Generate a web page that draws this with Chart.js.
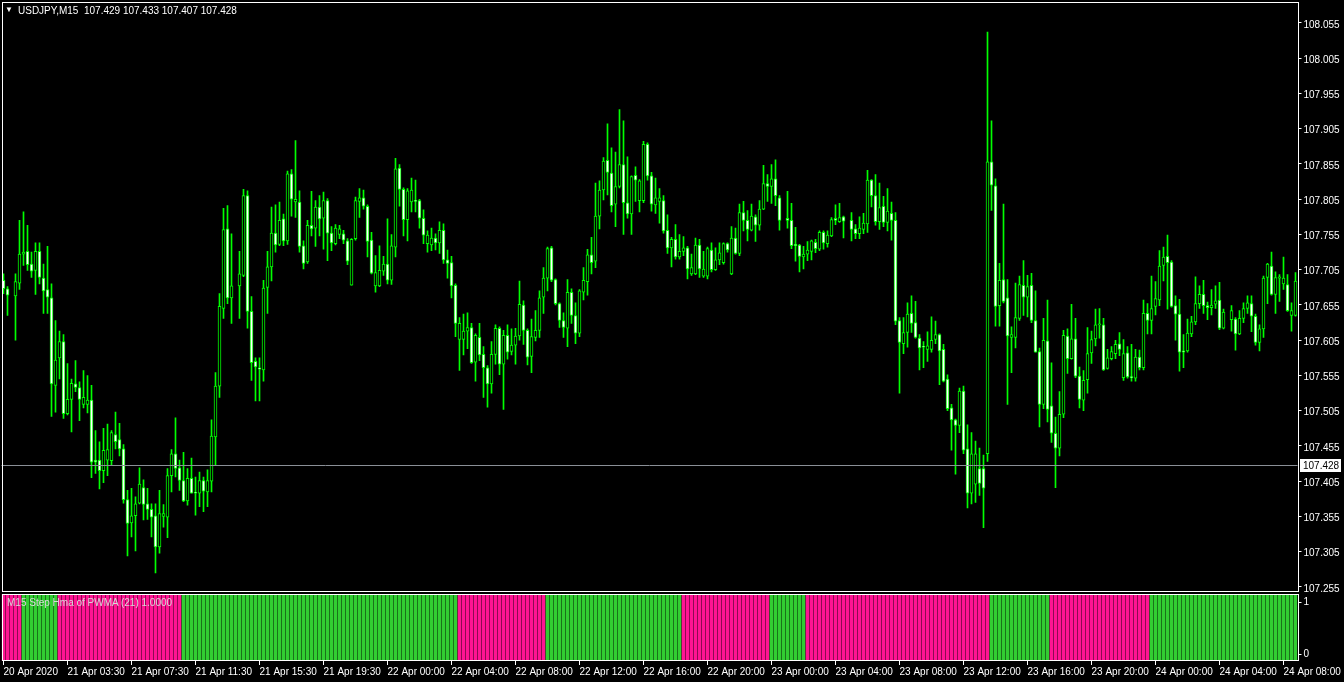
<!DOCTYPE html>
<html>
<head>
<meta charset="utf-8">
<title>USDJPY,M15</title>
<script src="https://cdn.jsdelivr.net/npm/chart.js"></script>
<style>
html, body { margin: 0; padding: 0; background: #000; }
#wrap { position: relative; width: 1344px; height: 682px; overflow: hidden; background: #000; font-family: "Liberation Sans", Arial, sans-serif; }
canvas { position: absolute; left: 0; }
#main { top: 0; }
#ind { top: 593px; }
.lbl { position: absolute; white-space: pre; font-size: 10px; line-height: 12px; color: #fff; }
</style>
</head>
<body>
<div id="wrap">
  <canvas id="main" width="1344" height="593"></canvas>
  <canvas id="ind" width="1344" height="89"></canvas>
  <div class="lbl" style="left:5px;top:4px;font-size:8px;">▼</div>
  <div class="lbl" style="left:18px;top:5px;">USDJPY,M15  107.429 107.433 107.407 107.428</div>
  <div class="lbl" style="left:7px;top:597px;color:#d8d8d8;">M15 Step Hma of PWMA (21) 1.0000</div>
</div>
<script>
// USDJPY M15 (null = barra sem desenho)
const opens = [
  107.690, 107.678, null, 107.668, 107.686, 107.727, 107.731, 107.713, 107.704, 107.731,
  107.693, 107.677, 107.665, 107.541, 107.580, 107.603, 107.501, 107.521, 107.543, 107.538,
  107.514, 107.514, 107.520, 107.435, 107.435, 107.420, 107.435, 107.434, 107.471, 107.464,
  107.451, 107.379, 107.346, 107.356, 107.374, 107.396, 107.373, 107.365, 107.356, 107.312,
  107.355, 107.354, 107.413, 107.444, 107.424, 107.406, 107.377, 107.409, 107.389, 107.388,
  107.406, 107.390, 107.405, 107.468, 107.540, 107.650, 107.763, 107.665, null, 107.682,
  107.697, 107.810, 107.646, 107.575, 107.566, 107.563, 107.680, 107.709, 107.757, 107.741,
  107.777, 107.746, 107.841, 107.801, 107.801, 107.739, 107.716, 107.768, 107.764, 107.794,
  107.778, 107.803, 107.757, 107.742, 107.755, 107.756, 107.746, 107.683, 107.749, 107.802,
  107.807, 107.795, 107.747, 107.682, 107.682, 107.703, 107.713, 107.690, 107.737, 107.849,
  107.819, 107.776, 107.801, 107.803, 107.803, 107.778, 107.742, 107.740, 107.750, 107.743,
  107.761, 107.719, 107.715, 107.683, 107.606, 107.606, 107.618, 107.623, 107.574, 107.609,
  107.585, 107.566, 107.543, 107.585, 107.622, 107.571, 107.612, 107.589, 107.598, 107.611,
  107.655, 107.619, 107.582, 107.609, 107.619, 107.666, 107.693, 107.736, 107.691, 107.657,
  107.633, 107.622, 107.673, 107.640, 107.615, 107.673, 107.688, 107.726, 107.717, 107.781,
  107.818, 107.860, 107.842, 107.798, 107.823, 107.854, 107.800, 107.784, 107.839, 107.803,
  107.803, 107.883, 107.838, 107.797, 107.802, 107.803, 107.761, 107.736, 107.748, 107.723,
  107.731, 107.736, 107.699, 107.699, 107.740, 107.696, 107.696, 107.733, 107.705, 107.719,
  107.715, 107.742, 107.699, 107.750, 107.728, 107.786, 107.775, 107.761, 107.780, 107.768,
  107.791, 107.827, 107.823, 107.834, 107.807, null, 107.778, 107.775, 107.741, 107.740,
  107.723, 107.727, 107.731, 107.744, 107.734, 107.758, 107.742, 107.753, 107.778, 107.773,
  107.780, null, 107.775, 107.763, 107.756, 107.762, 107.770, 107.832, 107.810, 107.773,
  107.795, 107.772, 107.785, 107.775, 107.633, 107.600, 107.616, 107.643, 107.630, 107.608,
  107.596, 107.592, 107.592, 107.606, 107.613, 107.592, 107.550, 107.509, 107.492, 107.484,
  107.533, 107.451, 107.388, 107.401, 107.423, 107.423, 107.444, 107.858, 107.824, 107.654,
  107.691, 107.665, 107.609, 107.609, 107.636, 107.683, 107.666, 107.683, 107.633, 107.589,
  107.514, 107.604, 107.512, 107.473, 107.452, 107.500, 107.611, 107.579, 107.607, 107.554,
  107.520, 107.549, 107.587, 107.607, 107.627, 107.627, 107.565, 107.579, 107.586, 107.600,
  107.552, 107.587, 107.553, 107.551, 107.581, 107.566, 107.643, 107.633, 107.653, 107.662,
  107.711, 107.724, 107.716, 107.654, 107.642, 107.590, 107.590, 107.614, 107.631, 107.657,
  107.670, 107.654, 107.651, 107.656, 107.662, 107.622, null, 107.634, 107.635, 107.614,
  107.636, 107.650, 107.657, 107.639, 107.602, 107.621, 107.694, 107.710, 107.670, 107.693,
  107.685, 107.684, 107.640, 107.640
];
const highs = [
  107.699, 107.681, null, 107.699, 107.775, 107.787, 107.768, 107.730, 107.743, 107.743,
  107.713, 107.738, 107.685, 107.633, 107.618, 107.613, 107.572, 107.550, 107.576, 107.546,
  107.562, 107.555, 107.541, 107.477, 107.461, 107.480, 107.486, 107.477, 107.503, 107.487,
  107.457, 107.392, 107.395, 107.383, 107.424, 107.407, 107.395, 107.373, 107.373, 107.392,
  107.372, 107.423, 107.450, 107.495, 107.435, 107.446, 107.423, 107.438, 107.411, 107.418,
  107.411, 107.421, 107.492, 107.559, 107.671, 107.792, 107.796, 107.756, null, 107.731,
  107.819, 107.817, 107.667, 107.580, 107.580, 107.690, 107.731, 107.794, 107.797, 107.801,
  107.784, 107.845, 107.847, 107.888, 107.817, 107.746, 107.775, 107.816, 107.803, 107.810,
  107.815, 107.806, 107.766, 107.769, 107.768, 107.761, 107.749, 107.749, 107.808, 107.820,
  107.818, 107.797, 107.758, 107.725, 107.739, 107.724, 107.777, 107.755, 107.863, 107.854,
  107.821, 107.820, 107.835, 107.832, 107.805, 107.790, 107.760, 107.764, 107.756, 107.773,
  107.770, 107.733, 107.724, 107.685, 107.637, 107.642, 107.644, 107.629, 107.614, 107.629,
  107.596, 107.569, 107.603, 107.627, 107.624, 107.619, 107.627, 107.621, 107.622, 107.689,
  107.661, 107.621, 107.635, 107.647, 107.675, 107.708, 107.737, 107.738, 107.692, 107.658,
  107.644, 107.691, 107.678, 107.658, 107.677, 107.708, 107.734, 107.751, 107.828, 107.831,
  107.864, 107.912, 107.878, 107.872, 107.932, 107.916, 107.865, 107.838, 107.851, 107.833,
  107.887, 107.885, 107.843, 107.835, 107.820, 107.810, 107.783, 107.751, 107.769, 107.755,
  107.752, 107.738, 107.727, 107.750, 107.748, 107.731, 107.737, 107.743, 107.736, 107.743,
  107.743, 107.743, 107.766, 107.764, 107.798, 107.802, 107.789, 107.798, 107.783, 107.803,
  107.853, 107.840, 107.854, 107.861, 107.810, null, 107.816, 107.799, 107.765, 107.741,
  107.738, 107.745, 107.747, 107.748, 107.760, 107.760, 107.760, 107.779, 107.797, 107.799,
  107.781, null, 107.786, 107.769, 107.780, 107.785, 107.846, 107.833, 107.840, 107.828,
  107.809, 107.820, 107.801, 107.786, 107.637, 107.637, 107.658, 107.668, 107.660, 107.613,
  107.603, 107.617, 107.638, 107.632, 107.614, 107.599, 107.556, 107.514, 107.493, 107.537,
  107.540, 107.485, 107.474, 107.462, 107.452, 107.442, 108.042, 107.916, 107.834, 107.714,
  107.798, 107.691, 107.624, 107.686, 107.696, 107.718, 107.697, 107.700, 107.675, 107.594,
  107.636, 107.662, 107.573, 107.496, 107.532, 107.619, 107.621, 107.656, 107.636, 107.567,
  107.562, 107.623, 107.618, 107.649, 107.650, 107.636, 107.592, 107.596, 107.605, 107.616,
  107.606, 107.596, 107.599, 107.592, 107.591, 107.662, 107.657, 107.696, 107.688, 107.732,
  107.737, 107.754, 107.718, 107.668, 107.663, 107.613, 107.635, 107.639, 107.695, 107.682,
  107.690, 107.659, 107.677, 107.682, 107.687, 107.649, null, 107.654, 107.637, 107.647,
  107.658, 107.668, 107.668, 107.642, 107.627, 107.696, 107.714, 107.730, 107.702, 107.698,
  107.723, 107.698, 107.658, 107.701
];
const lows = [
  107.671, 107.640, null, 107.605, 107.677, 107.711, 107.704, 107.694, 107.670, 107.685,
  107.643, 107.643, 107.497, 107.503, 107.550, 107.494, 107.499, 107.475, 107.532, 107.491,
  107.509, 107.502, 107.410, 107.416, 107.394, 107.403, 107.413, 107.428, 107.451, 107.441,
  107.374, 107.299, 107.326, 107.306, 107.373, 107.350, 107.351, 107.326, 107.275, 107.303,
  107.340, 107.325, 107.390, 107.411, 107.392, 107.376, 107.371, 107.388, 107.357, 107.369,
  107.362, 107.369, 107.390, 107.428, 107.524, 107.636, 107.657, 107.629, null, 107.636,
  107.695, 107.622, 107.548, 107.519, 107.519, 107.547, 107.643, 107.689, 107.730, 107.739,
  107.739, 107.741, 107.781, 107.779, 107.730, 107.706, 107.714, 107.753, 107.738, 107.753,
  107.734, 107.718, 107.732, 107.740, 107.749, 107.742, 107.712, 107.683, 107.747, 107.779,
  107.791, 107.723, 107.699, 107.673, 107.681, 107.697, 107.685, 107.684, 107.723, 107.795,
  107.753, 107.746, 107.787, 107.787, 107.764, 107.742, 107.730, 107.732, 107.733, 107.728,
  107.714, 107.693, 107.665, 107.610, 107.562, 107.584, 107.593, 107.572, 107.547, 107.576,
  107.524, 107.510, 107.530, 107.571, 107.556, 107.507, 107.578, 107.584, 107.571, 107.605,
  107.599, 107.570, 107.559, 107.604, 107.609, 107.643, 107.675, 107.688, 107.655, 107.623,
  107.609, 107.596, 107.629, 107.600, 107.610, 107.662, 107.669, 107.699, 107.708, 107.763,
  107.804, 107.811, 107.787, 107.766, 107.821, 107.755, 107.778, 107.755, 107.802, 107.787,
  107.800, 107.832, 107.788, 107.785, 107.771, 107.757, 107.728, 107.709, 107.720, 107.720,
  107.725, 107.692, 107.697, 107.698, 107.694, 107.694, 107.692, 107.702, 107.704, 107.712,
  107.713, 107.730, 107.698, 107.727, 107.725, 107.760, 107.746, 107.760, 107.745, 107.761,
  107.790, 107.802, 107.799, 107.796, 107.761, null, 107.764, 107.735, 107.717, 107.702,
  107.706, 107.718, 107.719, 107.729, 107.732, 107.734, 107.737, 107.752, 107.769, 107.772,
  107.750, null, 107.746, 107.749, 107.749, 107.756, 107.758, 107.794, 107.768, 107.762,
  107.766, 107.760, 107.747, 107.627, 107.530, 107.586, 107.595, 107.616, 107.608, 107.563,
  107.566, 107.575, 107.588, 107.600, 107.542, 107.546, 107.505, 107.449, 107.415, 107.474,
  107.444, 107.367, 107.373, 107.375, 107.385, 107.339, 107.433, 107.789, 107.625, 107.625,
  107.658, 107.514, 107.559, 107.594, 107.633, 107.640, 107.638, 107.630, 107.588, 107.482,
  107.508, 107.489, 107.460, 107.396, 107.441, 107.495, 107.558, 107.578, 107.552, 107.509,
  107.505, 107.530, 107.572, 107.597, 107.608, 107.562, 107.564, 107.577, 107.579, 107.583,
  107.548, 107.551, 107.547, 107.547, 107.563, 107.563, 107.614, 107.614, 107.641, 107.654,
  107.689, 107.649, 107.652, 107.605, 107.561, 107.566, 107.588, 107.610, 107.627, 107.650,
  107.643, 107.634, 107.641, 107.650, 107.620, 107.621, null, 107.618, 107.591, 107.613,
  107.630, 107.643, 107.617, 107.598, 107.590, 107.609, 107.657, 107.669, 107.643, 107.660,
  107.677, 107.646, 107.618, 107.639
];
const closes = [
  107.678, 107.669, null, 107.688, 107.727, 107.730, 107.712, 107.703, 107.731, 107.694,
  107.675, 107.666, 107.543, 107.577, 107.603, 107.501, 107.521, 107.544, 107.538, 107.521,
  107.524, 107.520, 107.432, 107.432, 107.420, 107.449, 107.450, 107.474, 107.461, 107.451,
  107.379, 107.345, 107.356, 107.373, 107.401, 107.372, 107.365, 107.354, 107.312, 107.359,
  107.359, 107.413, 107.444, 107.423, 107.406, 107.377, 107.409, 107.388, 107.388, 107.406,
  107.391, 107.406, 107.469, 107.540, 107.653, 107.762, 107.665, 107.682, null, 107.699,
  107.810, 107.646, 107.573, 107.567, 107.564, 107.679, 107.709, 107.757, 107.740, 107.775,
  107.746, 107.841, 107.805, 107.805, 107.738, 107.714, 107.768, 107.763, 107.794, 107.777,
  107.803, 107.757, 107.743, 107.764, 107.763, 107.747, 107.717, 107.748, 107.803, 107.807,
  107.795, 107.745, 107.700, 107.701, 107.704, 107.713, 107.690, 107.739, 107.848, 107.819,
  107.776, 107.817, 107.818, 107.802, 107.778, 107.754, 107.754, 107.750, 107.743, 107.761,
  107.719, 107.714, 107.682, 107.629, 107.629, 107.618, 107.623, 107.573, 107.612, 107.584,
  107.566, 107.543, 107.585, 107.622, 107.571, 107.612, 107.588, 107.598, 107.611, 107.656,
  107.619, 107.581, 107.610, 107.619, 107.665, 107.693, 107.735, 107.690, 107.657, 107.633,
  107.623, 107.673, 107.640, 107.615, 107.675, 107.690, 107.726, 107.715, 107.781, 107.818,
  107.859, 107.843, 107.796, 107.823, 107.854, 107.800, 107.784, 107.837, 107.832, 107.831,
  107.883, 107.838, 107.798, 107.807, 107.807, 107.760, 107.736, 107.748, 107.723, 107.731,
  107.736, 107.706, 107.708, 107.740, 107.706, 107.706, 107.735, 107.705, 107.719, 107.729,
  107.742, 107.733, 107.750, 107.728, 107.786, 107.775, 107.762, 107.781, 107.768, 107.791,
  107.827, 107.823, 107.834, 107.810, 107.775, null, 107.775, 107.739, 107.739, 107.724,
  107.727, 107.733, 107.746, 107.735, 107.758, 107.743, 107.754, 107.776, 107.775, 107.779,
  107.774, null, 107.762, 107.756, 107.764, 107.771, 107.832, 107.810, 107.773, 107.793,
  107.772, 107.788, 107.775, 107.632, 107.602, 107.616, 107.642, 107.629, 107.609, 107.594,
  107.595, 107.597, 107.605, 107.613, 107.590, 107.547, 107.508, 107.492, 107.484, 107.533,
  107.449, 107.388, 107.444, 107.444, 107.402, 107.395, 107.858, 107.825, 107.653, 107.690,
  107.660, 107.611, 107.613, 107.637, 107.684, 107.666, 107.681, 107.633, 107.588, 107.514,
  107.605, 107.507, 107.473, 107.452, 107.500, 107.612, 107.579, 107.607, 107.554, 107.521,
  107.548, 107.586, 107.606, 107.627, 107.627, 107.563, 107.580, 107.589, 107.599, 107.592,
  107.586, 107.553, 107.552, 107.581, 107.566, 107.643, 107.633, 107.650, 107.664, 107.710,
  107.723, 107.715, 107.653, 107.642, 107.588, 107.588, 107.615, 107.631, 107.657, 107.670,
  107.654, 107.651, 107.655, 107.661, 107.622, 107.645, null, 107.647, 107.614, 107.636,
  107.650, 107.658, 107.639, 107.602, 107.621, 107.693, 107.713, 107.670, 107.694, 107.695,
  107.693, 107.647, 107.647, 107.689
];

// escala de preço (rótulos do eixo direito)
const priceTicks = [107.255, 107.305, 107.355, 107.405, 107.455, 107.505, 107.555, 107.605,
  107.655, 107.705, 107.755, 107.805, 107.855, 107.905, 107.955, 108.005, 108.055];
const bidPrice = 107.428;

// rótulos de tempo, um a cada 16 barras
const timeTicks = ["20 Apr 2020", "21 Apr 03:30", "21 Apr 07:30", "21 Apr 11:30", "21 Apr 15:30",
  "21 Apr 19:30", "22 Apr 00:00", "22 Apr 04:00", "22 Apr 08:00", "22 Apr 12:00", "22 Apr 16:00",
  "22 Apr 20:00", "23 Apr 00:00", "23 Apr 04:00", "23 Apr 08:00", "23 Apr 12:00", "23 Apr 16:00",
  "23 Apr 20:00", "24 Apr 00:00", "24 Apr 04:00", "24 Apr 08:00"];

// Step Hma of PWMA (21): sequências de tendência (-1 baixa, 1 alta) e seus tamanhos em barras
const trendDir = [-1, 1, -1, 1, -1, 1, -1, 1, -1, 1, -1, 1];
const trendLen = [5, 9, 31, 69, 22, 34, 22, 9, 46, 15, 25, 37];

const GREEN = "#00ff00";
const FONT = { family: "'Liberation Sans', Arial, sans-serif", size: 10 };

const barLabels = opens.map((_, i) => i);
const wickData = highs.map((h, i) => h == null ? null : [lows[i], h]);
const bodyData = opens.map((o, i) => o == null ? null : [o, closes[i]]);
const bodyFill = opens.map((o, i) => closes[i] < o ? "#ffffff" : "#000000");

const stepValues = [];
const stepColors = [];
trendDir.forEach((d, k) => {
    for (let j = 0; j < trendLen[k]; j++) {
        stepValues.push(1);
        stepColors.push(d > 0 ? "#32cd32" : "#ff1493");
    }
});

function noPadding(s) {
    s.paddingTop = 0; s.paddingBottom = 0; s.paddingLeft = 0; s.paddingRight = 0;
}

// moldura branca em volta da área do gráfico
const framePlugin = {
    id: "frame",
    afterDraw(chart) {
        const ca = chart.chartArea, ctx = chart.ctx;
        ctx.save();
        ctx.strokeStyle = "#ffffff";
        ctx.lineWidth = 1;
        const x0 = Math.ceil(ca.left) + 0.5, x1 = Math.ceil(ca.right) + 0.5;
        const y0 = Math.round(ca.top) + 0.5, y1 = Math.round(ca.bottom) - 0.5;
        ctx.strokeRect(x0, y0, x1 - x0, y1 - y0);
        ctx.restore();
    }
};

// linha do preço atual (bid) com o rótulo em caixa branca
const bidPlugin = {
    id: "bidLine",
    afterDatasetsDraw(chart) {
        const ca = chart.chartArea, ctx = chart.ctx;
        const y = Math.round(chart.scales.y.getPixelForValue(bidPrice)) + 0.5;
        ctx.save();
        ctx.strokeStyle = "#8a8f96";
        ctx.lineWidth = 1;
        ctx.beginPath();
        ctx.moveTo(ca.left, y);
        ctx.lineTo(ca.right, y);
        ctx.stroke();
        ctx.fillStyle = "#ffffff";
        ctx.fillRect(1300, y - 6.5, 41, 13);
        ctx.fillStyle = "#000000";
        ctx.font = "10px 'Liberation Sans', Arial, sans-serif";
        ctx.textBaseline = "middle";
        ctx.fillText(bidPrice.toFixed(3), 1303, y + 0.5);
        ctx.restore();
    }
};

new Chart(document.getElementById("main"), {
    type: "bar",
    data: {
        labels: barLabels,
        datasets: [
            {
                label: "wick",
                data: wickData,
                backgroundColor: GREEN,
                borderWidth: 0,
                barThickness: 1,
                grouped: false,
                order: 2
            },
            {
                label: "USDJPY,M15",
                data: bodyData,
                backgroundColor: bodyFill,
                borderColor: GREEN,
                borderWidth: 1,
                borderSkipped: false,
                barThickness: 3,
                minBarLength: 1,
                grouped: false,
                order: 1
            }
        ]
    },
    options: {
        responsive: false,
        animation: false,
        layout: { padding: { left: 1.5, top: 2, right: 0, bottom: 1 } },
        plugins: { legend: { display: false }, tooltip: { enabled: false } },
        scales: {
            x: { display: false },
            y: {
                position: "right",
                min: 107.2479,
                max: 108.0847,
                afterBuildTicks: s => { s.ticks = priceTicks.map(v => ({ value: v })); },
                afterFit: s => { s.width = 46.5; noPadding(s); },
                grid: { drawOnChartArea: false, drawTicks: true, tickLength: 4, color: "#ffffff" },
                border: { display: false },
                ticks: {
                    color: "#ffffff",
                    font: FONT,
                    padding: 2,
                    labelOffset: 2,
                    autoSkip: false,
                    callback: v => v.toFixed(3)
                }
            }
        }
    },
    plugins: [framePlugin, bidPlugin]
});

new Chart(document.getElementById("ind"), {
    type: "bar",
    data: {
        labels: barLabels,
        datasets: [{
            label: "M15 Step Hma of PWMA (21)",
            data: stepValues,
            backgroundColor: stepColors,
            borderWidth: 0,
            barThickness: 3
        }]
    },
    options: {
        responsive: false,
        animation: false,
        layout: { padding: { left: 1.5, top: 1, right: 0, bottom: 0 } },
        plugins: { legend: { display: false }, tooltip: { enabled: false } },
        scales: {
            x: {
                afterFit: s => { s.height = 21; noPadding(s); },
                grid: { offset: false, drawOnChartArea: false, drawTicks: true, tickLength: 4, color: "#ffffff" },
                border: { display: false },
                ticks: {
                    color: "#ffffff",
                    font: FONT,
                    autoSkip: false,
                    maxRotation: 0,
                    align: "start",
                    padding: 1,
                    callback: (v, i) => i % 16 === 0 ? timeTicks[i / 16] : null
                }
            },
            y: {
                position: "right",
                min: 0,
                max: 1,
                afterBuildTicks: s => { s.ticks = [{ value: 0.1 }, { value: 0.87 }]; },
                afterFit: s => { s.width = 46.5; noPadding(s); },
                grid: { drawOnChartArea: false, drawTicks: true, tickLength: 4, color: "#ffffff" },
                border: { display: false },
                ticks: {
                    color: "#ffffff",
                    font: FONT,
                    padding: 2,
                    callback: v => v > 0.5 ? "1" : "0"
                }
            }
        }
    },
    plugins: [framePlugin]
});
</script>
</body>
</html>
